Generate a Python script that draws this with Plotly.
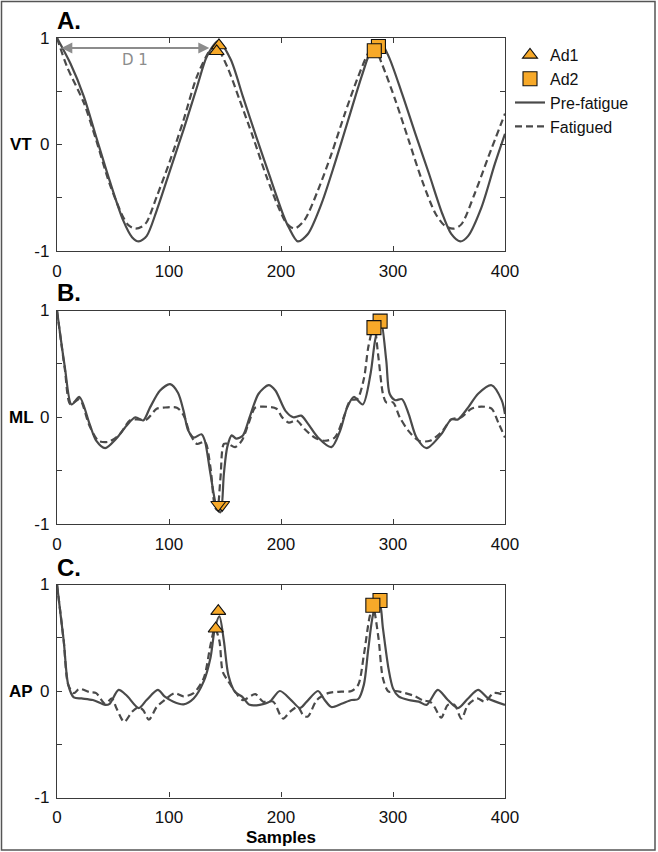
"""Autocorrelation of trunk acceleration, pre-fatigue vs fatigued (VT / ML / AP)."""

import plotly.graph_objects as go

# ---- data (sample lag, autocorrelation) ----
vt_pre_x = [0, 12, 24, 35, 47, 59, 67, 73, 80, 89, 101, 113, 125, 134, 144, 155, 166, 178, 190,
            202, 207, 215, 224, 236, 248, 260, 272, 281, 288, 296, 308, 320, 332, 344, 352, 360,
            367, 379, 391, 400]
vt_pre_y = [1.0, 0.76, 0.45, 0.07, -0.34, -0.71, -0.87, -0.91, -0.86, -0.62, -0.24, 0.14, 0.54,
            0.83, 0.97, 0.80, 0.45, 0.07, -0.30, -0.66, -0.78, -0.91, -0.84, -0.56, -0.18, 0.23,
            0.64, 0.90, 0.97, 0.83, 0.48, 0.10, -0.27, -0.65, -0.84, -0.91, -0.86, -0.59, -0.18,
            0.10]
vt_fat_x = [0, 9, 24, 35, 47, 59, 64, 70, 76, 80, 89, 101, 113, 125, 137, 142, 152, 163, 175,
            187, 199, 205, 212, 221, 233, 245, 257, 269, 278, 283, 290, 302, 314, 326, 338, 346,
            354, 361, 373, 385, 400]
vt_fat_y = [1.0, 0.73, 0.39, 0.04, -0.37, -0.68, -0.76, -0.79, -0.77, -0.73, -0.49, -0.15, 0.23,
            0.64, 0.89, 0.92, 0.73, 0.42, 0.07, -0.30, -0.62, -0.74, -0.79, -0.71, -0.43, -0.09,
            0.29, 0.64, 0.86, 0.92, 0.76, 0.42, 0.04, -0.34, -0.65, -0.76, -0.79, -0.75, -0.46,
            -0.12, 0.29]

ml_pre_x = [0, 7, 13, 20, 29, 35, 43, 53, 62, 70, 77, 83, 92, 101, 108, 113, 117, 122, 129, 132,
            137, 143, 146, 149, 152, 156, 160, 166, 172, 180, 189, 195, 204, 211, 218, 224, 233,
            245, 253, 259, 265, 273, 280, 284, 289, 294, 297, 302, 308, 314, 321, 330, 343, 352,
            358, 367, 376, 388, 397, 400]
ml_pre_y = [1.0, 0.47, 0.12, 0.19, -0.06, -0.22, -0.29, -0.20, -0.08, 0.0, -0.03, 0.09, 0.25,
            0.31, 0.23, 0.06, -0.12, -0.19, -0.16, -0.22, -0.53, -0.86, -0.89, -0.53, -0.28,
            -0.17, -0.20, -0.17, 0.0, 0.22, 0.30, 0.25, 0.06, 0.0, 0.015, -0.06, -0.19, -0.28,
            -0.12, 0.09, 0.19, 0.12, 0.41, 0.72, 0.92, 0.53, 0.22, 0.16, 0.17, 0.03, -0.19,
            -0.29, -0.16, -0.02, -0.02, 0.09, 0.22, 0.30, 0.16, 0.03]
ml_fat_x = [0, 7, 12, 20, 29, 37, 46, 56, 65, 71, 80, 89, 95, 107, 113, 119, 125, 132, 137, 141,
            143, 146, 149, 153, 159, 165, 171, 177, 184, 196, 201, 207, 214, 221, 230, 239, 248,
            256, 262, 268, 274, 278, 283, 287, 291, 294, 300, 306, 314, 323, 333, 344, 352, 361,
            370, 379, 388, 394, 400]
ml_fat_y = [1.0, 0.45, 0.12, 0.17, -0.08, -0.22, -0.23, -0.16, -0.03, -0.02, -0.02, 0.08, 0.09,
            0.09, 0.02, -0.16, -0.25, -0.23, -0.47, -0.84, -0.87, -0.56, -0.25, -0.25, -0.28,
            -0.22, -0.06, 0.09, 0.10, 0.08, 0.0, -0.05, -0.03, -0.11, -0.19, -0.22, -0.19, 0.0,
            0.16, 0.17, 0.36, 0.66, 0.86, 0.56, 0.22, 0.14, 0.14, 0.0, -0.13, -0.22, -0.22,
            -0.13, -0.02, 0.0, 0.08, 0.10, 0.08, -0.05, -0.19]

ap_pre_x = [0, 6, 10, 15, 22, 32, 43, 47, 55, 62, 73, 80, 90, 96, 104, 113, 122, 131, 137, 141,
            145, 149, 153, 159, 165, 172, 181, 190, 199, 209, 217, 223, 233, 239, 245, 254, 263,
            269, 274, 278, 283, 288, 291, 296, 300, 305, 314, 323, 330, 340, 349, 358, 367, 376,
            385, 400]
ap_pre_y = [1.0, 0.47, 0.06, -0.06, -0.07, -0.085, -0.13, -0.12, 0.01, -0.04, -0.16, -0.085,
            0.01, -0.05, -0.10, -0.125, -0.07, 0.09, 0.31, 0.59, 0.70, 0.47, 0.15, -0.01, -0.05,
            -0.13, -0.13, -0.10, 0.0, -0.085, -0.16, -0.10, 0.0, -0.085, -0.15, -0.12, -0.085,
            -0.075, 0.06, 0.40, 0.75, 0.83, 0.59, 0.21, 0.025, -0.05, -0.085, -0.10, -0.13, 0.01,
            -0.085, -0.16, -0.07, 0.01, -0.07, -0.13]
ap_fat_x = [0, 6, 10, 15, 20, 29, 35, 43, 49, 53, 60, 67, 73, 77, 82, 89, 96, 105, 113, 122, 131,
            137, 141, 145, 148, 153, 160, 166, 177, 184, 193, 199, 202, 208, 215, 220, 224, 232,
            242, 254, 263, 269, 274, 279, 282, 287, 291, 296, 302, 311, 320, 327, 333, 337, 343,
            349, 355, 361, 367, 375, 382, 390, 400]
ap_fat_y = [1.0, 0.47, 0.06, -0.02, 0.02, -0.01, -0.02, -0.12, -0.07, -0.16, -0.29, -0.195,
            -0.15, -0.18, -0.27, -0.15, -0.085, -0.02, -0.05, -0.02, 0.12, 0.43, 0.59, 0.47,
            0.18, 0.09, -0.02, -0.085, -0.03, -0.10, -0.10, -0.22, -0.26, -0.195, -0.15, -0.23,
            -0.24, -0.085, -0.02, -0.006, 0.0, 0.06, 0.34, 0.69, 0.80, 0.50, 0.12, -0.006, 0.0,
            -0.02, -0.05, -0.09, -0.10, -0.15, -0.25, -0.13, -0.13, -0.26, -0.13, -0.07, -0.10,
            -0.02, -0.04]

# Ad1 / Ad2 peaks: [pre-fatigue, fatigued]
vt_ad1_x, vt_ad1_y = [144.6, 142.6], [0.93, 0.875]
vt_ad2_x, vt_ad2_y = [287, 283.3], [0.92, 0.88]
ml_ad1_x, ml_ad1_y = [147.5, 144], [-0.82, -0.82]
ml_ad2_x, ml_ad2_y = [288.5, 283], [0.90, 0.84]
ap_ad1_x, ap_ad1_y = [144, 141.7], [0.75, 0.585]
ap_ad2_x, ap_ad2_y = [288.4, 282], [0.85, 0.805]

# D1 span (first dominant period) drawn on the VT panel
d1_span = [2.5, 136]
d1_level = 0.905

LINE = "#4a4a4a"
ORANGE = "#F7A929"
W, H = 658, 852

panels = [
    ("A.", "VT", vt_pre_x, vt_pre_y, vt_fat_x, vt_fat_y,
     (vt_ad1_x, vt_ad1_y, "triangle-up"), (vt_ad2_x, vt_ad2_y)),
    ("B.", "ML", ml_pre_x, ml_pre_y, ml_fat_x, ml_fat_y,
     (ml_ad1_x, ml_ad1_y, "triangle-down"), (ml_ad2_x, ml_ad2_y)),
    ("C.", "AP", ap_pre_x, ap_pre_y, ap_fat_x, ap_fat_y,
     (ap_ad1_x, ap_ad1_y, "triangle-up"), (ap_ad2_x, ap_ad2_y)),
]

# plot boxes in pixels: (top, bottom)
boxes = [(38, 251), (310.5, 524), (584.5, 797.5)]
left_px, right_px = 57, 505
panel_label_y = [20, 292, 567]

fig = go.Figure()
axis_common = dict(
    showline=True, linecolor="#3a3a3a", linewidth=1.3, mirror="ticks",
    ticks="inside", ticklen=5, tickcolor="#3a3a3a", tickwidth=1,
    showgrid=False, zeroline=False, automargin=False,
    tickfont=dict(family="Liberation Sans, Arial", size=17, color="#111"),
)

for i, (tag, name, px_, py_, fx_, fy_, ad1, ad2) in enumerate(panels):
    xa = "x" if i == 0 else f"x{i + 1}"
    ya = "y" if i == 0 else f"y{i + 1}"
    first = i == 0

    fig.add_scatter(x=px_, y=py_, xaxis=xa, yaxis=ya, mode="lines", name="Pre-fatigue",
                    line=dict(color=LINE, width=2.2, shape="spline", smoothing=0.8),
                    showlegend=first, legendgroup="pre", legendrank=3)
    fig.add_scatter(x=fx_, y=fy_, xaxis=xa, yaxis=ya, mode="lines", name="Fatigued",
                    line=dict(color=LINE, width=2.2, shape="spline", smoothing=0.8,
                              dash="7px,4px"),
                    showlegend=first, legendgroup="fat", legendrank=4)
    fig.add_scatter(x=ad1[0], y=ad1[1], xaxis=xa, yaxis=ya, mode="markers", name="Ad1",
                    marker=dict(symbol=ad1[2], size=13, color=ORANGE,
                                line=dict(color="#111", width=1.1)),
                    showlegend=first, legendgroup="ad1", legendrank=1)
    fig.add_scatter(x=ad2[0], y=ad2[1], xaxis=xa, yaxis=ya, mode="markers", name="Ad2",
                    marker=dict(symbol="square", size=14, color=ORANGE,
                                line=dict(color="#111", width=1.1)),
                    showlegend=first, legendgroup="ad2", legendrank=2)

    top, bottom = boxes[i]
    suffix = "" if i == 0 else str(i + 1)
    fig.layout["xaxis" + suffix] = dict(
        axis_common, domain=[left_px / W, right_px / W], range=[0, 400],
        tickvals=[0, 100, 200, 300, 400], ticklabelstandoff=4,
        anchor=ya,
    )
    fig.layout["yaxis" + suffix] = dict(
        axis_common, domain=[1 - bottom / H, 1 - top / H], range=[-1, 1],
        tickvals=[-1, -0.5, 0, 0.5, 1], ticktext=["-1", "", "0", "", "1"],
        ticklabelstandoff=3, anchor=xa,
    )

    fig.add_annotation(text=f"<b>{tag}</b>", xref="paper", yref="paper",
                       x=55 / W, y=1 - panel_label_y[i] / H, xanchor="left", yanchor="middle",
                       showarrow=False, font=dict(family="Liberation Sans, Arial", size=24,
                                                  color="#000"))
    fig.add_annotation(text=f"<b>{name}</b>", xref="paper", yref=ya, x=21 / W, y=0,
                       xanchor="center", yanchor="middle", showarrow=False,
                       font=dict(family="Liberation Sans, Arial", size=17, color="#000"))

# D 1 double arrow
fig.add_annotation(x=d1_span[1], y=d1_level, ax=d1_span[0], ay=d1_level,
                   xref="x", yref="y", axref="x", ayref="y", text="",
                   showarrow=True, arrowside="end+start", arrowhead=2, arrowsize=1.1,
                   arrowwidth=2, arrowcolor="#8c8c8c", startarrowhead=2, startarrowsize=1.1)
fig.add_annotation(text="D 1", x=(d1_span[0] + d1_span[1]) / 2, y=0.79, xref="x", yref="y",
                   showarrow=False, font=dict(family="DejaVu Sans", size=15, color="#8c8c8c"))

fig.add_annotation(text="<b>Samples</b>", xref="paper", yref="paper", x=281 / W, y=1 - 837 / H,
                   xanchor="center", yanchor="middle", showarrow=False,
                   font=dict(family="Liberation Sans, Arial", size=17, color="#000"))

# outer frame
fig.add_shape(type="rect", xref="paper", yref="paper", x0=1.5 / W, x1=1 - 3 / W,
              y0=2 / H, y1=1 - 1.5 / H, line=dict(color="#555", width=1.5))

fig.update_layout(
    width=W, height=H,
    margin=dict(l=0, r=0, t=0, b=0, autoexpand=False),
    paper_bgcolor="white", plot_bgcolor="white",
    legend=dict(x=510 / W, y=1 - 38 / H, xanchor="left", yanchor="top",
                font=dict(family="Liberation Sans, Arial", size=16, color="#111"),
                traceorder="grouped", tracegroupgap=0, bgcolor="rgba(0,0,0,0)"),
)

# the page's default body margin would push the figure off the window edge
fig.write_html("out.html", config={"displayModeBar": False},
               post_script="document.body.style.margin = '0';")
